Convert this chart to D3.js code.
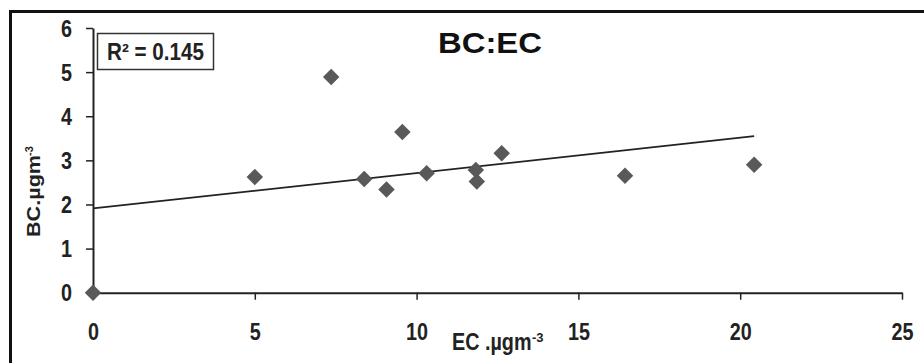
<!DOCTYPE html>
<html><head><meta charset="utf-8">
<script src="https://cdn.jsdelivr.net/npm/d3@7"></script>
<style>
html,body{margin:0;padding:0;background:#fff;}
svg{display:block;}
.tick text{font-family:"Liberation Sans",Arial,sans-serif;font-weight:bold;font-size:23px;fill:#222;}
</style></head>
<body><svg id="c" width="924" height="363"></svg>
<script>
const ecValues = [0, 5.0, 7.36, 8.38, 9.07, 9.56, 10.31, 11.83, 11.86, 12.63, 16.44, 20.43];
const bcValues = [0, 2.62, 4.89, 2.58, 2.34, 3.64, 2.71, 2.78, 2.52, 3.16, 2.65, 2.90];
const trendX = [0, 20.43];
const trendY = [1.91, 3.55];
const xTicks = [0, 5, 10, 15, 20, 25];
const yTicks = [0, 1, 2, 3, 4, 5, 6];
const titleText = "BC:EC";
const r2Text = "R² = 0.145";

const svg = d3.select("#c");
const x = d3.scaleLinear().domain([0, 25]).range([93, 902]);
const y = d3.scaleLinear().domain([0, 6]).range([292.7, 28]);
const font = '"Liberation Sans",Arial,sans-serif';

// outer frame (top + left)
svg.append("line").attr("x1", 9).attr("x2", 924).attr("y1", 11.5).attr("y2", 11.5).attr("stroke", "#111").attr("stroke-width", 3);
svg.append("line").attr("x1", 10.5).attr("x2", 10.5).attr("y1", 10).attr("y2", 363).attr("stroke", "#111").attr("stroke-width", 3);

const digitW = 11;

const xAxis = svg.append("g").attr("transform", `translate(0,${y(0)})`)
  .call(d3.axisBottom(x).tickValues(xTicks).tickFormat(d3.format("d")).tickSize(7).tickSizeOuter(0));
xAxis.select(".domain").attr("stroke", "#222").attr("stroke-width", 2);
xAxis.selectAll(".tick line").attr("stroke", "#222").attr("stroke-width", 1.5);
xAxis.selectAll(".tick text").attr("dy", null).attr("y", 47)
  .attr("textLength", d => String(d).length * digitW).attr("lengthAdjust", "spacingAndGlyphs");

const yAxis = svg.append("g").attr("transform", `translate(${x(0)},0)`)
  .call(d3.axisLeft(y).tickValues(yTicks).tickFormat(d3.format("d")).tickSize(7).tickSizeOuter(0));
yAxis.select(".domain").attr("stroke", "#222").attr("stroke-width", 2);
yAxis.selectAll(".tick line").attr("stroke", "#222").attr("stroke-width", 1.5);
yAxis.selectAll(".tick text").attr("x", -21).attr("dy", "0.36em")
  .attr("textLength", d => String(d).length * digitW).attr("lengthAdjust", "spacingAndGlyphs");

// trendline
svg.append("path")
  .datum(trendX.map((d, i) => [d, trendY[i]]))
  .attr("d", d3.line().x(d => x(d[0])).y(d => y(d[1])))
  .attr("stroke", "#222").attr("stroke-width", 1.7).attr("fill", "none");

// points
svg.append("g").selectAll("path").data(ecValues.map((d, i) => [d, bcValues[i]]))
  .join("path")
  .attr("transform", d => `translate(${x(d[0])},${y(d[1])}) rotate(45)`)
  .attr("d", d3.symbol().type(d3.symbolSquare).size(136))
  .attr("fill", "#595959");

// title
svg.append("text").attr("x", 438).attr("y", 53)
  .attr("font-family", font).attr("font-weight", "bold")
  .attr("font-size", 30).attr("fill", "#111")
  .attr("textLength", 104).attr("lengthAdjust", "spacingAndGlyphs").text(titleText);

// R2 box
svg.append("rect").attr("x", 97.5).attr("y", 33.5).attr("width", 116).attr("height", 36)
  .attr("fill", "#fff").attr("stroke", "#333").attr("stroke-width", 1.5);
svg.append("text").attr("x", 107).attr("y", 60)
  .attr("font-family", font).attr("font-weight", "bold").attr("font-size", 23).attr("fill", "#222")
  .attr("textLength", 97).attr("lengthAdjust", "spacingAndGlyphs")
  .text(r2Text);

// x label (main + superscript)
svg.append("text").attr("transform", "translate(452,350) scale(0.86,1)")
  .attr("font-family", font).attr("font-weight", "bold").attr("font-size", 23).attr("fill", "#222")
  .text("EC .µgm");
svg.append("text").attr("x", 532).attr("y", 342)
  .attr("font-family", font).attr("font-weight", "bold").attr("font-size", 13).attr("fill", "#222")
  .text("-3");

// y label (main + superscript), rotated
svg.append("text").attr("transform", "translate(40,237) rotate(-90) scale(1.2,1)")
  .attr("font-family", font).attr("font-weight", "bold").attr("font-size", 18).attr("fill", "#222")
  .text("BC.µgm");
svg.append("text").attr("transform", "translate(33,156) rotate(-90)")
  .attr("font-family", font).attr("font-weight", "bold").attr("font-size", 11).attr("fill", "#222")
  .text("-3");
</script></body></html>
